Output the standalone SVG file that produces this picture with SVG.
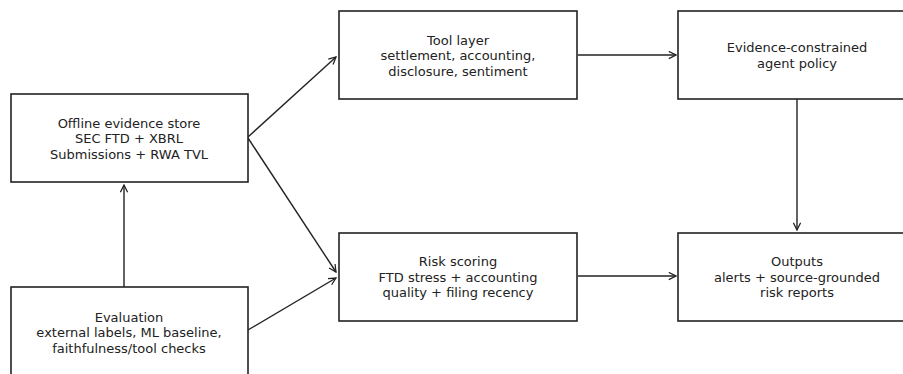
<svg xmlns="http://www.w3.org/2000/svg" width="903" height="374" viewBox="0 0 903 374">
<style>
rect.box{fill:#fff;stroke:#222;stroke-width:1.6}
text{font-family:"DejaVu Sans",sans-serif;font-size:13px;fill:#222;text-anchor:middle}
.edge{stroke:#222;stroke-width:1.4;fill:none;marker-end:url(#ah)}
</style>
<defs>
<marker id="ah" viewBox="0 0 10 10" refX="9" refY="5" markerWidth="9" markerHeight="9" markerUnits="userSpaceOnUse" orient="auto">
<path d="M1,1 L9,5 L1,9" fill="none" stroke="#222" stroke-width="1.4"/>
</marker>
</defs>
<rect width="903" height="374" fill="#fff"/>
<g id="connectors">
<line class="edge" x1="248" y1="137" x2="336" y2="57"/>
<line class="edge" x1="248" y1="138" x2="336" y2="272"/>
<line class="edge" x1="248" y1="330" x2="336" y2="278"/>
<line class="edge" x1="124" y1="287" x2="124" y2="185"/>
<line class="edge" x1="578" y1="55" x2="676" y2="55"/>
<line class="edge" x1="578" y1="276" x2="676" y2="276"/>
<line class="edge" x1="797" y1="99" x2="797" y2="230"/>
</g>
<g id="offline">
<rect class="box" x="11" y="94" width="237" height="88"/>
<text x="129" y="127.5">Offline evidence store</text>
<text x="129" y="143">SEC FTD + XBRL</text>
<text x="129" y="158.5">Submissions + RWA TVL</text>
</g>
<g id="evaluation">
<rect class="box" x="11" y="287" width="237" height="88"/>
<text x="129" y="321.5">Evaluation</text>
<text x="129" y="337">external labels, ML baseline,</text>
<text x="129" y="352.5">faithfulness/tool checks</text>
</g>
<g id="tool">
<rect class="box" x="339" y="11" width="238" height="88"/>
<text x="458" y="44.5">Tool layer</text>
<text x="458" y="60">settlement, accounting,</text>
<text x="458" y="75.5">disclosure, sentiment</text>
</g>
<g id="policy">
<rect class="box" x="678" y="11" width="238" height="88"/>
<text x="797" y="52">Evidence-constrained</text>
<text x="797" y="67.5">agent policy</text>
</g>
<g id="risk">
<rect class="box" x="339" y="233" width="238" height="88"/>
<text x="458" y="266">Risk scoring</text>
<text x="458" y="281.5">FTD stress + accounting</text>
<text x="458" y="297">quality + filing recency</text>
</g>
<g id="outputs">
<rect class="box" x="678" y="233" width="238" height="88"/>
<text x="797" y="266">Outputs</text>
<text x="797" y="281.5">alerts + source-grounded</text>
<text x="797" y="297">risk reports</text>
</g>
</svg>
